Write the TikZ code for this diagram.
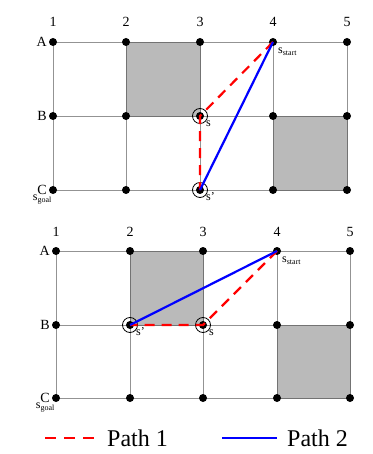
\documentclass[tikz,border=0pt]{standalone}
\usepackage{fontspec}
\setmainfont{Liberation Serif}
\begin{document}
\begin{tikzpicture}[x=1pt,y=-1pt,
  gridline/.style={draw=gray!85, line width=0.9pt},
  dot/.style={circle, fill=black, inner sep=0pt, minimum size=8pt},
  ring/.style={circle, draw=black, line width=0.8pt, inner sep=0pt, minimum size=15pt},
  lbl/.style={font=\fontsize{14}{14}\selectfont, inner sep=0pt},
  slbl/.style={font=\fontsize{12}{12}\selectfont, inner sep=0pt},
  pathone/.style={draw=red, line width=2.2pt, dash pattern=on 10pt off 7pt},
  pathtwo/.style={draw=blue, line width=2.2pt},
]
\useasboundingbox (0,0) rectangle (372,454);
% ---------- top grid ----------
\begin{scope}
\foreach \c/\x in {1/53,2/126,3/200,4/273,5/347}{
  \foreach \r/\y in {A/42,B/116,C/190}{
    \coordinate (t\r\c) at (\x,\y);
  }
}
\fill[black!27] (tA2) rectangle (tB3);
\fill[black!27] (tB4) rectangle (tC5);
\foreach \r in {A,B,C}{ \draw[gridline] (t\r1) -- (t\r5); }
\foreach \c in {1,2,3,4,5}{ \draw[gridline] (tA\c) -- (tC\c); }
\draw[black!55, line width=0.9pt] (tA2) rectangle (tB3);
\draw[black!55, line width=0.9pt] (tB4) rectangle (tC5);
\foreach \c in {1,...,5}{
  \node[lbl] (tn\c) at ([yshift=20pt]tA\c) {\c};
  \foreach \r in {A,B,C}{ \node[dot] (td\r\c) at (t\r\c) {}; }
}
\foreach \r in {A,B,C}{ \node[lbl, anchor=east] (tl\r) at ([xshift=-6pt]t\r1) {\r}; }
\node[ring] (ts) at (tB3) {};
\node[ring] (tsp) at (tC3) {};
\draw[pathone] (tdA4.center) -- (ts.center) -- (tsp.center);
\draw[pathtwo] (tdA4.center) -- (tsp.center);
\node[slbl, anchor=north west] (tslbl) at ([xshift=6pt,yshift=-5pt]tB3) {s};
\node[slbl, anchor=north west] (tsplbl) at ([xshift=6pt,yshift=-2pt]tC3) {s'};
\node[slbl, anchor=north west] (tstart) at ([xshift=5pt,yshift=-6pt]tA4) {s\textsubscript{start}};
\node[slbl, anchor=north east] (tgoal) at ([xshift=-1pt,yshift=-5pt]tC1) {s\textsubscript{goal}};
\end{scope}
% ---------- bottom grid ----------
\begin{scope}
\foreach \c/\x in {1/56,2/130,3/203,4/277,5/350}{
  \foreach \r/\y in {A/251,B/325,C/398}{
    \coordinate (b\r\c) at (\x,\y);
  }
}
\fill[black!27] (bA2) rectangle (bB3);
\fill[black!27] (bB4) rectangle (bC5);
\foreach \r in {A,B,C}{ \draw[gridline] (b\r1) -- (b\r5); }
\foreach \c in {1,2,3,4,5}{ \draw[gridline] (bA\c) -- (bC\c); }
\draw[black!55, line width=0.9pt] (bA2) rectangle (bB3);
\draw[black!55, line width=0.9pt] (bB4) rectangle (bC5);
\foreach \c in {1,...,5}{
  \node[lbl] (bn\c) at ([yshift=19pt]bA\c) {\c};
  \foreach \r in {A,B,C}{ \node[dot] (bd\r\c) at (b\r\c) {}; }
}
\foreach \r in {A,B,C}{ \node[lbl, anchor=east] (bl\r) at ([xshift=-6pt]b\r1) {\r}; }
\node[ring] (bs) at (bB3) {};
\node[ring] (bsp) at (bB2) {};
\draw[pathone] (bdA4.center) -- (bs.center) -- (bsp.center);
\draw[pathtwo] (bdA4.center) -- (bsp.center);
\node[slbl, anchor=north west] (bslbl) at ([xshift=6pt,yshift=-5pt]bB3) {s};
\node[slbl, anchor=north west] (bsplbl) at ([xshift=6pt,yshift=-2pt]bB2) {s'};
\node[slbl, anchor=north west] (bstart) at ([xshift=5pt,yshift=-6pt]bA4) {s\textsubscript{start}};
\node[slbl, anchor=north east] (bgoal) at ([xshift=-1pt,yshift=-5pt]bC1) {s\textsubscript{goal}};
\end{scope}
% ---------- legend ----------
\coordinate (l1a) at (45,438);
\coordinate (l1b) at (94,438);
\coordinate (l2a) at (222,438);
\coordinate (l2b) at (277,438);
\draw[pathone, dash pattern=on 11pt off 8pt] (l1a) -- (l1b);
\draw[pathtwo] (l2a) -- (l2b);
\node[font=\fontsize{24}{24}\selectfont, anchor=west, inner sep=0pt] (leg1) at (107,438) {Path 1};
\node[font=\fontsize{24}{24}\selectfont, anchor=west, inner sep=0pt] (leg2) at (287,438) {Path 2};
\end{tikzpicture}
\end{document}
